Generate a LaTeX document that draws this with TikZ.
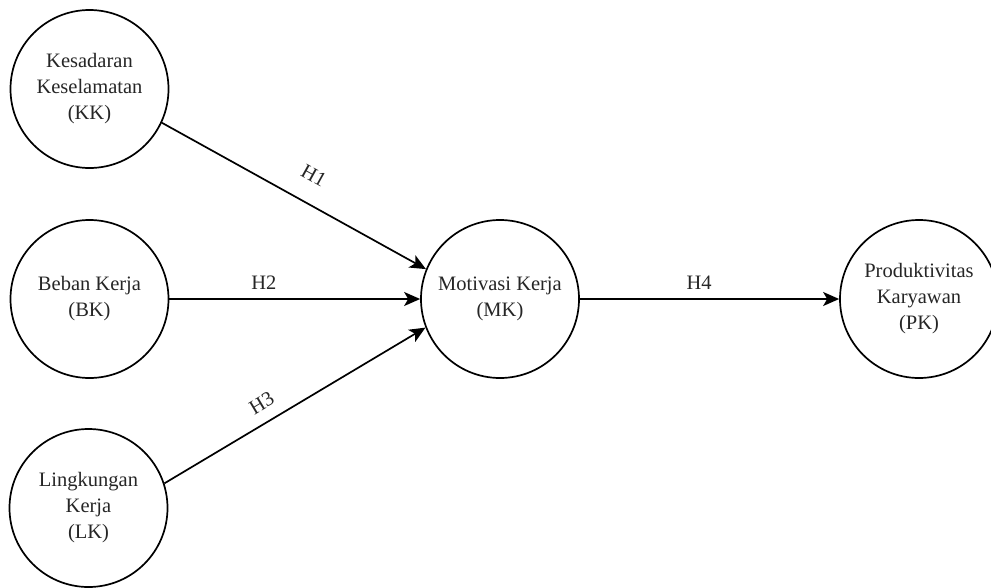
\documentclass[tikz,border=0pt]{standalone}
\usepackage{fontspec}
\setmainfont{Liberation Serif}
\usetikzlibrary{arrows.meta}
\begin{document}
\begin{tikzpicture}[x=1pt,y=-1pt,
  var/.style={circle,draw,line width=1.7pt,minimum size=158pt,inner sep=0pt,align=center,
    font=\fontsize{20.5}{26}\selectfont,text=black!85},
  link/.style={line width=1.7pt,-{Stealth[length=16pt,width=14pt,inset=4pt]}},
  lbl/.style={font=\fontsize{20.5}{25}\selectfont,inner sep=0pt,sloped,text=black!85}]
\useasboundingbox (0,0) rectangle (991,587);
\clip (0,0) rectangle (991,587);
\node[var] (KK) at (89.5,89) {Kesadaran\\Keselamatan\\(KK)};
\node[var] (BK) at (89.5,299) {Beban Kerja\\(BK)};
\node[var] (LK) at (88.5,508) {Lingkungan\\Kerja\\(LK)};
\node[var] (MK) at (500,299) {Motivasi Kerja\\(MK)};
\node[var] (PK) at (919,299) {Produktivitas\\Karyawan\\(PK)};
\draw[link] (KK.-25) -- node[lbl,pos=0.525,above=20pt] (h1) {H1} (MK.158);
\draw[link] (BK.east) -- node[lbl,pos=0.377,above=9pt] (h2) {H2} (MK.west);
\draw[link] (LK.18) -- node[lbl,pos=0.41,above=11.5pt] (h3) {H3} (MK.201);
\draw[link] (MK.east) -- node[lbl,pos=0.46,above=9pt] (h4) {H4} (PK.west);
\end{tikzpicture}
\end{document}
